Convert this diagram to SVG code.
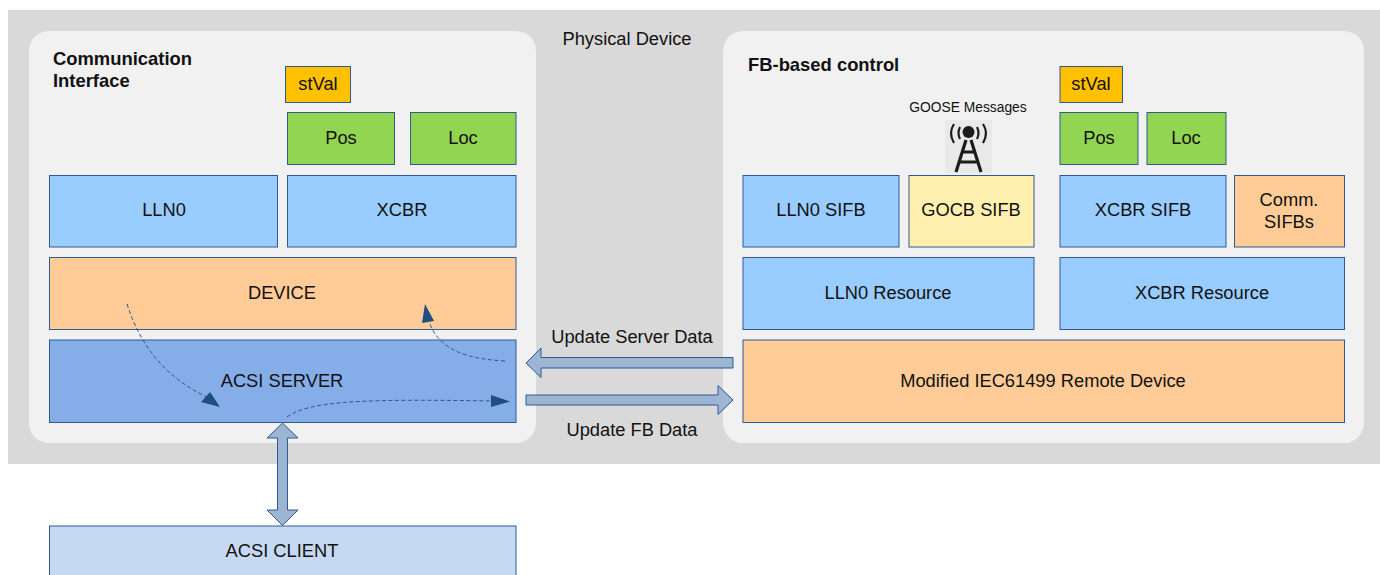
<svg xmlns="http://www.w3.org/2000/svg" width="1380" height="575" viewBox="0 0 1380 575">
<style>
text{font-family:"Liberation Sans",Arial,sans-serif;font-size:18.3px;fill:#111;text-anchor:middle}
.b{font-weight:bold;text-anchor:start;font-size:18.4px}
.box{stroke:#2f5a93;stroke-width:1}
.blue{fill:#99ccff}.orange{fill:#ffcb96}.green{fill:#92d550}.gold{fill:#ffc000}.yellow{fill:#fff0b0}.server{fill:#85aee8}.client{fill:#c6d9f3}
.panel{fill:#f1f1f1}
.fat{fill:#9bb5d3;stroke:#2f5a93;stroke-width:1}
.dash{fill:none;stroke:#2a5a92;stroke-width:1;stroke-dasharray:4 2.5}
.head{fill:#1f4e82}
</style>
<rect x="8" y="10" width="1372" height="454" fill="#d9d9d9"/>
<text x="627" y="45">Physical Device</text>
<rect class="panel" x="29" y="31" width="507" height="412" rx="20"/>
<rect class="panel" x="723" y="31" width="641" height="412" rx="20"/>
<g id="comm-title"><text class="b" x="53" y="65">Communication</text><text class="b" x="53" y="87">Interface</text></g>
<g id="fb-title"><text class="b" x="748" y="71">FB-based control</text></g>
<g id="stval1"><rect class="box gold" x="285.500" y="66.500" width="65" height="36"/><text x="318" y="90">stVal</text></g>
<g id="pos1"><rect class="box green" x="287.500" y="112.500" width="107" height="52"/><text x="341" y="144">Pos</text></g>
<g id="loc1"><rect class="box green" x="410.500" y="112.500" width="105.500" height="52"/><text x="463" y="144">Loc</text></g>
<g id="lln0"><rect class="box blue" x="49.500" y="175.500" width="228" height="71.500"/><text x="164" y="216">LLN0</text></g>
<g id="xcbr"><rect class="box blue" x="287.500" y="175.500" width="228.500" height="71.500"/><text x="402" y="216">XCBR</text></g>
<g id="device"><rect class="box orange" x="49.500" y="257.500" width="466.500" height="72"/><text x="282" y="299">DEVICE</text></g>
<g id="server"><rect class="box server" x="49.500" y="340" width="466.500" height="82.500"/><text x="282" y="387">ACSI SERVER</text></g>
<g id="client"><rect class="box client" x="49.500" y="526" width="466.500" height="55"/><text x="282" y="557">ACSI CLIENT</text></g>
<g id="goose"><text x="968" y="112" style="font-size:13.8px">GOOSE Messages</text>
<g id="tower"><rect x="945" y="120" width="47" height="53" fill="#e9e9e9"/>
<g fill="none" stroke="#1c1c1c"><path d="M954 124q-6 9 0 19M960 127q-3 6 0 12M983 124q6 9 0 19M977 127q3 6 0 12" stroke-width="2.200"/><path d="M966 140l-10 32M971 140l10 32M961 152h15M958 162h21" stroke-width="3.200"/></g><circle cx="968.500" cy="132" r="6" fill="#1c1c1c"/></g></g>
<g id="stval2"><rect class="box gold" x="1060" y="66.500" width="62.500" height="36"/><text x="1091" y="90">stVal</text></g>
<g id="pos2"><rect class="box green" x="1060" y="112.500" width="78" height="52"/><text x="1099" y="144">Pos</text></g>
<g id="loc2"><rect class="box green" x="1147" y="112.500" width="79" height="52"/><text x="1186" y="144">Loc</text></g>
<g id="lln0sifb"><rect class="box blue" x="743" y="175.500" width="156" height="71.500"/><text x="821" y="216">LLN0 SIFB</text></g>
<g id="gocb"><rect class="box yellow" x="909" y="175.500" width="125" height="71.500"/><text x="971" y="216">GOCB SIFB</text></g>
<g id="xcbrsifb"><rect class="box blue" x="1060" y="175.500" width="166" height="71.500"/><text x="1143" y="216">XCBR SIFB</text></g>
<g id="commsifb"><rect class="box orange" x="1234.500" y="175.500" width="110" height="71.500"/><text x="1289" y="206">Comm.</text><text x="1289" y="228">SIFBs</text></g>
<g id="lln0res"><rect class="box blue" x="743" y="257.500" width="291" height="72"/><text x="888" y="299">LLN0 Resource</text></g>
<g id="xcbrres"><rect class="box blue" x="1060" y="257.500" width="284.500" height="72"/><text x="1202" y="299">XCBR Resource</text></g>
<g id="remote"><rect class="box orange" x="743" y="340" width="601.500" height="82.500"/><text x="1043" y="387">Modified IEC61499 Remote Device</text></g>
<text x="632" y="343">Update Server Data</text>
<text x="632" y="436">Update FB Data</text>
<g id="connectors">
<path class="fat" d="M733 357.500H541V348L526 363L541 377.500V368H733Z"/>
<path class="fat" d="M526 395H718V385.500L733 400L718 414.500V405H526Z"/>
<path class="fat" d="M282.500 423L298 438H287.500V510H298L282.500 525.500L267 510H277.500V438H267Z"/>
<path class="dash" d="M127 304C140 345 165 378 209 398"/><path class="head" d="M220 407L201 402L210 392Z"/>
<path class="dash" d="M505 361C470 359 440 352 429 322"/><path class="head" d="M425 304L434 321L422 323Z"/>
<path class="dash" d="M287 417C310 400 370 399 492 401"/><path class="head" d="M510 401.500L491 395V407Z"/>
</g>
</svg>
